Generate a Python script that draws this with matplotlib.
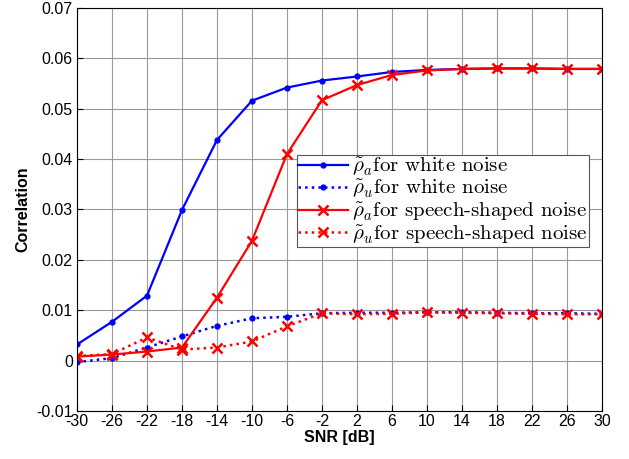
import numpy as np
import matplotlib.pyplot as plt

plt.rcParams['font.family'] = ['Liberation Sans', 'DejaVu Sans']
plt.rcParams['mathtext.fontset'] = 'cm'

snr = [-30, -26, -22, -18, -14, -10, -6, -2, 2, 6, 10, 14, 18, 22, 26, 30]

# correlation values
white_a = [0.0032, 0.0077, 0.0129, 0.0299, 0.0438, 0.0516, 0.0542, 0.0556, 0.0564, 0.0573, 0.0577, 0.0579, 0.0580, 0.0580, 0.0579, 0.0579]
white_u = [-0.0003, 0.0005, 0.0026, 0.0048, 0.0069, 0.0084, 0.0087, 0.0094, 0.0095, 0.0095, 0.0096, 0.0096, 0.0095, 0.0094, 0.0094, 0.0093]
speech_a = [0.0008, 0.0012, 0.0018, 0.0026, 0.0125, 0.0238, 0.0410, 0.0517, 0.0547, 0.0567, 0.0576, 0.0579, 0.0580, 0.0580, 0.0579, 0.0579]
speech_u = [0.0009, 0.0013, 0.0046, 0.0022, 0.0026, 0.0038, 0.0068, 0.0094, 0.0092, 0.0093, 0.0096, 0.0095, 0.0094, 0.0093, 0.0092, 0.0092]

labels = [r'$\tilde{\rho}_a$for white noise',
          r'$\tilde{\rho}_u$for white noise',
          r'$\tilde{\rho}_a$for speech-shaped noise',
          r'$\tilde{\rho}_u$for speech-shaped noise']

fig = plt.figure(figsize=(6.29, 4.59), dpi=100)
ax = fig.add_axes([0.1224, 0.1046, 0.8346, 0.878])

ax.plot(snr, white_a, '-', color='#0000ff', marker='.', markersize=7, linewidth=1.6, label=labels[0])
ax.plot(snr, white_u, ':', color='#0000ff', marker='.', markersize=7, linewidth=1.8, label=labels[1])
ax.plot(snr, speech_a, '-', color='#ff0000', marker='x', markersize=7, markeredgewidth=1.8,
        linewidth=1.6, label=labels[2])
ax.plot(snr, speech_u, ':', color='#ff0000', marker='x', markersize=7, markeredgewidth=1.8,
        linewidth=1.8, label=labels[3])

ax.set_xlim(-30, 30)
ax.set_ylim(-0.01, 0.07)
ax.set_xticks(snr)
ax.set_yticks(np.arange(-0.01, 0.0701, 0.01))
ax.set_yticklabels(['-0.01', '0', '0.01', '0.02', '0.03', '0.04', '0.05', '0.06', '0.07'])
ax.set_xticklabels([str(s) for s in snr])
ax.tick_params(direction='in', labelsize=11.5, length=4)
ax.tick_params(axis='x', pad=2)
ax.tick_params(axis='y', pad=3)
ax.grid(True, color='#999999', linewidth=0.8)
ax.set_xlabel('SNR [dB]', fontsize=11.5, fontweight='bold', labelpad=1)
ax.set_ylabel('Correlation', fontsize=11.5, fontweight='bold', labelpad=4)

leg = ax.legend(loc='upper left', bbox_to_anchor=(0.419, 0.635),
                prop={'family': 'cmr10', 'size': 15},
                frameon=True, fancybox=False, edgecolor='#555555', framealpha=1,
                handlelength=2.4, handletextpad=0.2, borderpad=0.05, labelspacing=0.0,
                borderaxespad=0)
leg.get_frame().set_linewidth(0.8)

fig.savefig('out.png', dpi=100)
